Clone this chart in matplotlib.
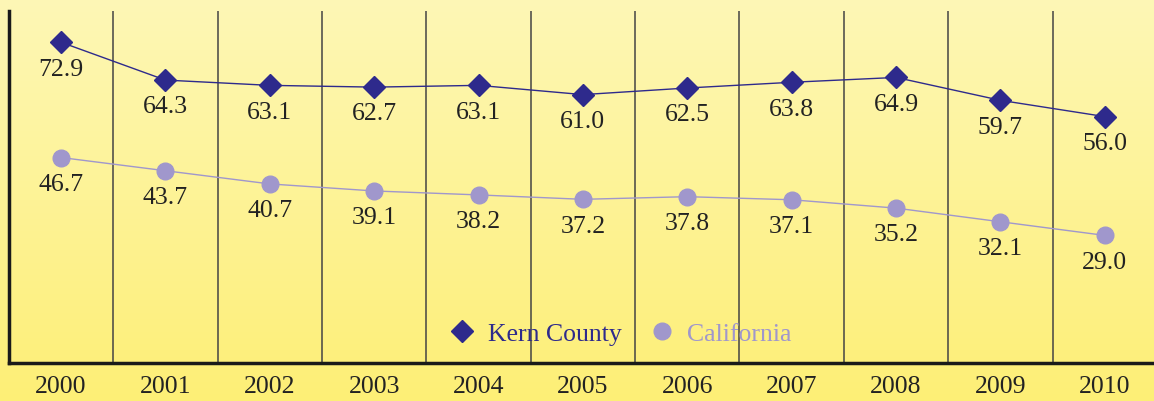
import numpy as np
import matplotlib.pyplot as plt
from matplotlib.colors import LinearSegmentedColormap

years = ["2000", "2001", "2002", "2003", "2004", "2005", "2006", "2007", "2008", "2009", "2010"]
kern = [72.9, 64.3, 63.1, 62.7, 63.1, 61.0, 62.5, 63.8, 64.9, 59.7, 56.0]
california = [46.7, 43.7, 40.7, 39.1, 38.2, 37.2, 37.8, 37.1, 35.2, 32.1, 29.0]

KERN_COLOR = '#2E2A8C'
CA_COLOR = '#A097CC'
TEXT_COLOR = '#222222'
plt.rcParams['font.family'] = ['Liberation Serif', 'DejaVu Serif']

fig = plt.figure(figsize=(11.54, 4.02), dpi=100)

# gradient background over the whole figure
bg = fig.add_axes([0, 0, 1, 1], zorder=-10)
cmap = LinearSegmentedColormap.from_list('bg', ['#FEF7B6', '#FDEF76'])
bg.imshow(np.linspace(0, 1, 256).reshape(-1, 1), aspect='auto', cmap=cmap,
          extent=[0, 1, 0, 1], origin='upper')
bg.axis('off')

ax = fig.add_axes([8.8 / 1154, 38 / 402, (1157 - 8.8) / 1154, (364 - 12) / 402])
ax.patch.set_alpha(0)

x = np.arange(len(years))
ax.plot(x, kern, color=KERN_COLOR, lw=1, marker='D', markersize=11,
        markerfacecolor=KERN_COLOR, markeredgecolor=KERN_COLOR, label='Kern County', zorder=3)
ax.plot(x, california, color=CA_COLOR, lw=1, marker='o', markersize=12,
        markerfacecolor=CA_COLOR, markeredgecolor=CA_COLOR, label='California', zorder=3)

for xi, v in zip(x, kern):
    ax.annotate(f"{v:.1f}", (xi, v), xytext=(0, -11), textcoords='offset points',
                ha='center', va='top', fontsize=18.5, color=TEXT_COLOR)
for xi, v in zip(x, california):
    ax.annotate(f"{v:.1f}", (xi, v), xytext=(0, -11), textcoords='offset points',
                ha='center', va='top', fontsize=18.5, color=TEXT_COLOR)

# separators between years
for b in np.arange(0.5, len(years) - 1, 1.0):
    ax.axvline(b, color='#444444', lw=1.1, zorder=1)

ax.set_xlim(-0.5, len(years) - 0.5)
ax.set_ylim(0, 80)
ax.set_xticks(x)
ax.set_xticklabels(years, fontsize=18.5, color=TEXT_COLOR)
ax.tick_params(axis='x', length=0, pad=9)
ax.set_yticks([])
for s in ['top', 'right']:
    ax.spines[s].set_visible(False)
ax.spines['left'].set_linewidth(2.5)
ax.spines['bottom'].set_linewidth(2.5)
ax.spines['left'].set_color('#1a1a1a')
ax.spines['bottom'].set_color('#1a1a1a')

leg = ax.legend(loc='center', bbox_to_anchor=(0.533, 0.085), ncol=2, frameon=False,
                fontsize=18.5, handlelength=1.0, handletextpad=0.5, columnspacing=1.05)
for txt, c in zip(leg.get_texts(), [KERN_COLOR, CA_COLOR]):
    txt.set_color(c)
for h in leg.legend_handles:
    h.set_linestyle('')

fig.savefig('out.png', dpi=100)
